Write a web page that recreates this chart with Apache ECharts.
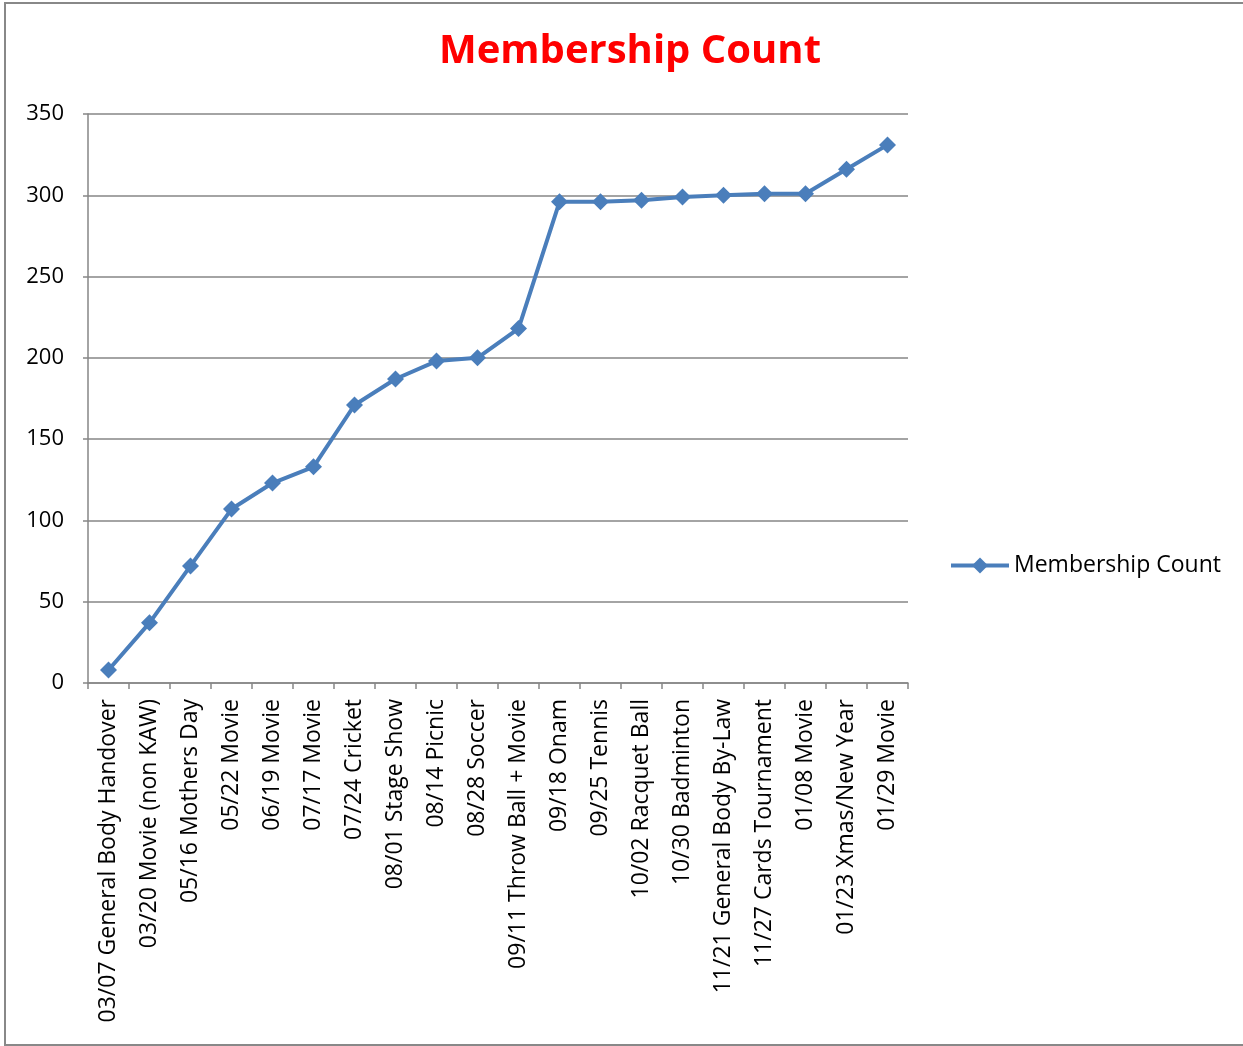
<!DOCTYPE html>
<html>
<head>
<meta charset="utf-8">
<title>Membership Count</title>
<script type="text/javascript" src="https://cdn.jsdelivr.net/npm/echarts@6/dist/echarts.min.js"></script>
<style>
  html, body { margin: 0; padding: 0; overflow: hidden; background: #fff; }
</style>
</head>
<body>
<div id="chart" style="width: 1243px; height: 1046px;"></div>
<script type="text/javascript">
// event labels (x axis)
var events = [
  '03/07 General Body Handover', '03/20 Movie (non KAW)', '05/16 Mothers Day',
  '05/22 Movie', '06/19 Movie', '07/17 Movie', '07/24 Cricket',
  '08/01 Stage Show', '08/14 Picnic', '08/28 Soccer', '09/11 Throw Ball + Movie',
  '09/18 Onam', '09/25 Tennis', '10/02 Racquet Ball', '10/30 Badminton',
  '11/21 General Body By-Law', '11/27 Cards Tournament', '01/08 Movie',
  '01/23 Xmas/New Year', '01/29 Movie'
];
// membership count at each event
var counts = [8, 37, 72, 107, 123, 133, 171, 187, 198, 200, 218, 296, 296, 297, 299, 300, 301, 301, 316, 331];

var font = 'Open Sans, Noto Sans, sans-serif';
var gray = '#868686';
var blue = '#4a7ebb';

var myChart = echarts.init(document.getElementById('chart'));
myChart.setOption({
  animation: false,
  graphic: [{
    type: 'rect',
    shape: { x: 5, y: 3, width: 1260, height: 1042 },
    style: { fill: 'none', stroke: '#888', lineWidth: 2 }
  }],
  title: {
    text: 'Membership Count',
    left: 625,
    textAlign: 'center',
    top: 27,
    textStyle: { color: '#ff0000', fontSize: 40, fontWeight: 'bold', fontFamily: font }
  },
  legend: {
    left: 944,
    top: 549,
    itemWidth: 58,
    itemHeight: 20,
    lineStyle: { width: 4 },
    textStyle: { fontSize: 23, color: '#000', fontFamily: font },
    data: ['Membership Count']
  },
  grid: { left: 88, right: 335, top: 114, bottom: 363 },
  xAxis: {
    type: 'category',
    data: events,
    boundaryGap: true,
    axisLine: { lineStyle: { color: gray, width: 1.5 } },
    axisTick: { show: true, length: 6, lineStyle: { color: gray, width: 1.5 } },
    axisLabel: { rotate: 90, interval: 0, margin: 16, fontSize: 23, color: '#000', fontFamily: font }
  },
  yAxis: {
    type: 'value',
    min: 0, max: 350, interval: 50,
    axisLine: { show: true, lineStyle: { color: gray, width: 1.5 } },
    axisTick: { show: true, length: 5, lineStyle: { color: gray, width: 1.5 } },
    axisLabel: { fontSize: 22, color: '#000', margin: 24, fontFamily: font },
    splitLine: { lineStyle: { color: gray, width: 1.5 } }
  },
  series: [{
    name: 'Membership Count',
    type: 'line',
    data: counts,
    symbol: 'diamond',
    symbolSize: 17,
    lineStyle: { color: blue, width: 4 },
    itemStyle: { color: blue }
  }]
});
</script>
</body>
</html>
